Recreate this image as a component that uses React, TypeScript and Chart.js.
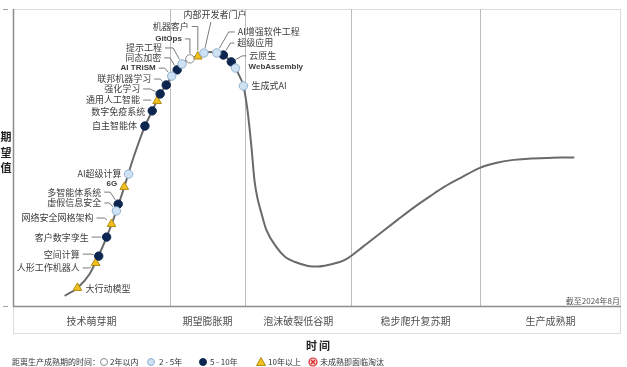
import React, { useEffect, useRef } from "react";
import { Chart, registerables } from "chart.js";
Chart.register(...registerables);

// Hype curve (time 0-100, expectation 0-100)
const curveX = [8.5, 10.6, 12.6, 14.05, 15.4, 17.0, 18.3, 19.9, 21.7, 22.9, 24.2, 25.2, 26.1, 27.0, 27.8, 29.1, 30.4, 31.4, 32.35, 33.5, 34.6, 35.9, 36.6, 37.25, 37.9, 38.56, 39.22, 39.71, 40.2, 40.85, 41.67, 43.3, 44.77, 46.41, 48.53, 50.16, 51.8, 54.58, 57.52, 60.46, 63.24, 66.01, 68.63, 70.92, 73.86, 76.8, 79.58, 82.35, 85.29, 87.75, 90.2, 92.32];
const curveY = [3.4, 6.1, 10.8, 16.8, 23.2, 32.0, 40.1, 50.5, 60.6, 65.7, 71.4, 74.4, 77.4, 79.5, 81.5, 83.2, 84.2, 85.2, 85.5, 85.2, 84.5, 82.2, 80.1, 77.4, 74.1, 66.0, 53.5, 42.4, 36.4, 31.3, 25.6, 19.9, 16.5, 14.8, 13.5, 13.3, 13.8, 15.5, 19.9, 24.6, 29.0, 33.3, 37.0, 40.1, 43.4, 46.5, 48.2, 49.2, 49.7, 49.8, 50.0, 50.0];

const techNames = ["大行动模型", "人形工作机器人", "空间计算", "客户数字孪生", "网络安全网格架构", "虚假信息安全", "多智能体系统", "6G", "AI超级计算", "自主智能体", "数字免疫系统", "通用人工智能", "强化学习", "联邦机器学习", "AI TRiSM", "同态加密", "提示工程", "GitOps", "机器客户", "内部开发者门户", "AI增强软件工程", "超级应用", "云原生", "WebAssembly", "生成式AI"];
const techX = [10.6, 13.6, 14.1, 15.4, 16.2, 17.0, 17.3, 18.3, 19.0, 21.7, 22.9, 23.7, 24.2, 25.2, 26.1, 27.0, 27.8, 29.1, 30.4, 31.4, 33.5, 34.6, 35.9, 36.6, 37.9];
const techY = [6.1, 14.5, 16.8, 23.2, 27.6, 32.0, 34.3, 40.1, 44.4, 60.6, 65.7, 69.0, 71.4, 74.4, 77.4, 79.5, 81.5, 83.2, 84.0, 85.2, 85.2, 84.5, 82.2, 80.1, 74.1];
// 0: 2年以内, 1: 2-5年, 2: 5-10年, 3: 10年以上
const techCat = [3, 3, 2, 2, 3, 1, 2, 3, 1, 2, 2, 3, 2, 2, 1, 2, 1, 0, 3, 1, 1, 2, 2, 1, 1];

const phaseNames = ["技术萌芽期", "期望膨胀期", "泡沫破裂低谷期", "稳步爬升复苏期", "生产成熟期"];
const phaseBounds = [0, 25.8, 38.2, 55.6, 76.8, 100];

const legendTitle = "距离生产成熟期的时间：";
const legendLabels = ["2年以内", "2 - 5年", "5 - 10年", "10年以上", "未成熟即面临淘汰"];
const xTitle = "时间";
const yTitle = "期望值";
const dateNote = "截至2024年8月";

// label layout (style): [dx, dy, align, leader, elbow, latinBold]
const labelLayout: [number, number, string, number, number, number][] = [
  [8, 1, "l", 0, 0, 0],
  [-16, 5, "r", 1, 7, 0],
  [-19, -2, "r", 1, 8, 0],
  [-18, 0, "r", 1, 8, 0],
  [-18, -6, "r", 1, 8, 0],
  [-15, -8, "r", 1, 5, 0],
  [-17, -12, "r", 1, 6, 0],
  [-7, -3, "r", 0, 0, 1],
  [-7, -1, "r", 0, 0, 0],
  [-8, 0, "r", 0, 0, 0],
  [-7, 1, "r", 0, 0, 0],
  [-17, -1, "r", 1, 7, 0],
  [-20, -5, "r", 1, 7, 0],
  [-15, -6, "r", 1, 6, 0],
  [-16, -8, "r", 1, 6, 1],
  [-16, -12, "r", 1, 6, 0],
  [-20, -16, "r", 1, 8, 0],
  [-8, -20, "r", 1, 5, 1],
  [-9, -30, "r", 1, 6, 0],
  [11, -38, "c", 1, 0, 0],
  [21, -21, "l", 1, 6, 0],
  [14, -12, "l", 1, 4, 0],
  [18, -6, "l", 1, 4, 0],
  [13, -1, "l", 0, 0, 1],
  [8, 0, "l", 0, 0, 0],
];

const CJK = "'Noto Sans CJK SC', 'Noto Sans', sans-serif";
const catStyle = [
  { fill: "#ffffff", stroke: "#8a8a8a", shape: "circle", r: 4.2 },
  { fill: "#cfe2f3", stroke: "#8fb0cf", shape: "circle", r: 4.2 },
  { fill: "#0c2650", stroke: "#0c2650", shape: "circle", r: 4.2 },
  { fill: "#efc020", stroke: "#b38d12", shape: "triangle", r: 5 },
];

function drawSymbol(ctx: CanvasRenderingContext2D, kind: number, x: number, y: number) {
  ctx.save();
  ctx.lineWidth = 1;
  if (kind < 3) {
    const s = catStyle[kind];
    ctx.beginPath();
    ctx.arc(x, y, 3.5, 0, Math.PI * 2);
    ctx.fillStyle = s.fill;
    ctx.fill();
    ctx.strokeStyle = s.stroke;
    ctx.stroke();
  } else if (kind === 3) {
    const s = catStyle[3];
    ctx.beginPath();
    ctx.moveTo(x, y - 4.5);
    ctx.lineTo(x + 4.5, y + 3.5);
    ctx.lineTo(x - 4.5, y + 3.5);
    ctx.closePath();
    ctx.fillStyle = s.fill;
    ctx.fill();
    ctx.strokeStyle = s.stroke;
    ctx.stroke();
  } else {
    ctx.beginPath();
    ctx.arc(x, y, 4, 0, Math.PI * 2);
    ctx.fillStyle = "#f7c9c9";
    ctx.fill();
    ctx.strokeStyle = "#d92b2b";
    ctx.lineWidth = 1.2;
    ctx.stroke();
    ctx.beginPath();
    ctx.moveTo(x - 2, y - 2);
    ctx.lineTo(x + 2, y + 2);
    ctx.moveTo(x + 2, y - 2);
    ctx.lineTo(x - 2, y + 2);
    ctx.stroke();
  }
  ctx.restore();
}

const hypePlugin = {
  id: "hypeDecor",
  beforeDatasetsDraw(chart: any) {
    const ctx: CanvasRenderingContext2D = chart.ctx;
    const a = chart.chartArea;
    const xs = chart.scales.x;
    ctx.save();
    // light frame
    ctx.strokeStyle = "#dcdcdc";
    ctx.lineWidth = 1;
    ctx.beginPath();
    ctx.moveTo(a.left, a.top + 0.5);
    ctx.lineTo(a.right, a.top + 0.5);
    ctx.moveTo(a.right - 0.5, a.top);
    ctx.lineTo(a.right - 0.5, a.bottom + 27);
    ctx.moveTo(a.left, a.bottom + 27.5);
    ctx.lineTo(a.right, a.bottom + 27.5);
    ctx.moveTo(a.left + 0.5, a.bottom);
    ctx.lineTo(a.left + 0.5, a.bottom + 27);
    ctx.stroke();
    // phase separators
    ctx.strokeStyle = "#bdbdbd";
    ctx.beginPath();
    for (let i = 1; i < phaseBounds.length - 1; i++) {
      const px = Math.round(xs.getPixelForValue(phaseBounds[i])) + 0.5;
      ctx.moveTo(px, a.top);
      ctx.lineTo(px, a.bottom);
    }
    ctx.stroke();
    // axes
    ctx.strokeStyle = "#8c8c8c";
    ctx.lineWidth = 1.5;
    ctx.beginPath();
    ctx.moveTo(a.left + 0.5, a.top);
    ctx.lineTo(a.left + 0.5, a.bottom + 0.5);
    ctx.lineTo(a.right, a.bottom + 0.5);
    ctx.stroke();
    // small tick dashes
    ctx.strokeStyle = "#a0a0a0";
    ctx.lineWidth = 1;
    ctx.beginPath();
    ctx.moveTo(3, a.top + 0.5);
    ctx.lineTo(8, a.top + 0.5);
    ctx.moveTo(3, a.bottom + 0.5);
    ctx.lineTo(8, a.bottom + 0.5);
    ctx.stroke();
    ctx.restore();
  },
  afterDatasetsDraw(chart: any) {
    const ctx: CanvasRenderingContext2D = chart.ctx;
    const a = chart.chartArea;
    const xs = chart.scales.x;
    const ys = chart.scales.y;
    ctx.save();
    ctx.textBaseline = "middle";
    // technology labels
    for (let i = 0; i < techNames.length; i++) {
      const px = xs.getPixelForValue(techX[i]);
      const py = ys.getPixelForValue(techY[i]);
      const [dx, dy, align, leader, elbow, bold] = labelLayout[i];
      const tx = px + dx;
      const ty = py + dy;
      ctx.font = bold ? "bold 8px 'Liberation Sans', Arial, sans-serif" : `9px ${CJK}`;
      ctx.fillStyle = "#3c3c3c";
      ctx.textAlign = align === "l" ? "left" : align === "r" ? "right" : "center";
      ctx.fillText(techNames[i], tx, ty);
      if (leader) {
        const r = catStyle[techCat[i]].r + 1;
        let sx: number, sy: number, ex: number, ey: number;
        if (align === "r") {
          sx = tx + 3; sy = ty; ex = sx + elbow; ey = ty;
        } else if (align === "l") {
          sx = tx - 3; sy = ty; ex = sx - elbow; ey = ty;
        } else {
          sx = tx - 4; sy = ty + 7; ex = sx; ey = sy;
        }
        const vx = px - ex, vy = py - ey;
        const len = Math.hypot(vx, vy) || 1;
        const fx = px - (vx / len) * r;
        const fy = py - (vy / len) * r;
        ctx.strokeStyle = "#7a7a7a";
        ctx.lineWidth = 1;
        ctx.beginPath();
        ctx.moveTo(sx, sy);
        ctx.lineTo(ex, ey);
        ctx.lineTo(fx, fy);
        ctx.stroke();
      }
    }
    // phase labels
    ctx.font = `10px ${CJK}`;
    ctx.fillStyle = "#505050";
    ctx.textAlign = "center";
    for (let i = 0; i < phaseNames.length; i++) {
      const c = (xs.getPixelForValue(phaseBounds[i]) + xs.getPixelForValue(phaseBounds[i + 1])) / 2;
      ctx.fillText(phaseNames[i], c, a.bottom + 15);
    }
    // date note
    ctx.font = `8px ${CJK}`;
    ctx.textAlign = "right";
    ctx.fillStyle = "#555";
    ctx.fillText(dateNote, a.right - 1, a.bottom - 5);
    // axis titles
    ctx.font = `bold 11px ${CJK}`;
    ctx.fillStyle = "#222";
    ctx.textAlign = "center";
    (ctx as any).letterSpacing = "2px";
    ctx.fillText(xTitle, 319, 346);
    (ctx as any).letterSpacing = "0px";
    for (let k = 0; k < yTitle.length; k++) {
      ctx.fillText(yTitle[k], 6, 137 + k * 15.5);
    }
    // legend
    ctx.font = `8px ${CJK}`;
    ctx.fillStyle = "#333";
    ctx.textAlign = "left";
    ctx.fillText(legendTitle, 12, 362);
    const symX = [104, 151, 203, 261, 313];
    const txtX = [110, 159, 210, 268, 320];
    for (let k = 0; k < legendLabels.length; k++) {
      drawSymbol(ctx, k, symX[k], 362);
      ctx.fillStyle = "#333";
      ctx.fillText(legendLabels[k], txtX[k], 362);
    }
    ctx.restore();
  },
};

export default function App() {
  const ref = useRef<HTMLCanvasElement>(null);
  useEffect(() => {
    if (!ref.current) return;
    const markerSets = catStyle.map((s, c) => ({
      data: techX.map((x, i) => ({ x, y: techY[i], c: techCat[i] })).filter((p) => p.c === c),
      showLine: false,
      pointStyle: s.shape,
      pointRadius: s.r,
      pointBackgroundColor: s.fill,
      pointBorderColor: s.stroke,
      pointBorderWidth: 1,
      order: 0,
    }));
    const chart = new Chart(ref.current, {
      type: "scatter",
      data: {
        datasets: [
          {
            data: curveX.map((x, i) => ({ x, y: curveY[i] })),
            showLine: true,
            pointRadius: 0,
            borderColor: "#6a6a6a",
            borderWidth: 2,
            cubicInterpolationMode: "monotone",
            order: 10,
          } as any,
          ...(markerSets as any),
        ],
      },
      options: {
        responsive: false,
        animation: false,
        devicePixelRatio: 1,
        events: [],
        layout: { padding: { left: 13, right: 2, top: 9, bottom: 61 } },
        scales: {
          x: { type: "linear", min: 0, max: 100, display: false },
          y: { type: "linear", min: 0, max: 100, display: false },
        },
        plugins: { legend: { display: false }, tooltip: { enabled: false } },
      },
      plugins: [hypePlugin],
    });
    return () => chart.destroy();
  }, []);
  return (
    <div style={{ position: "absolute", left: 0, top: 0, width: 627, height: 367, background: "#fff" }}>
      <canvas ref={ref} width={627} height={367} style={{ width: 627, height: 367, display: "block" }} />
    </div>
  );
}
